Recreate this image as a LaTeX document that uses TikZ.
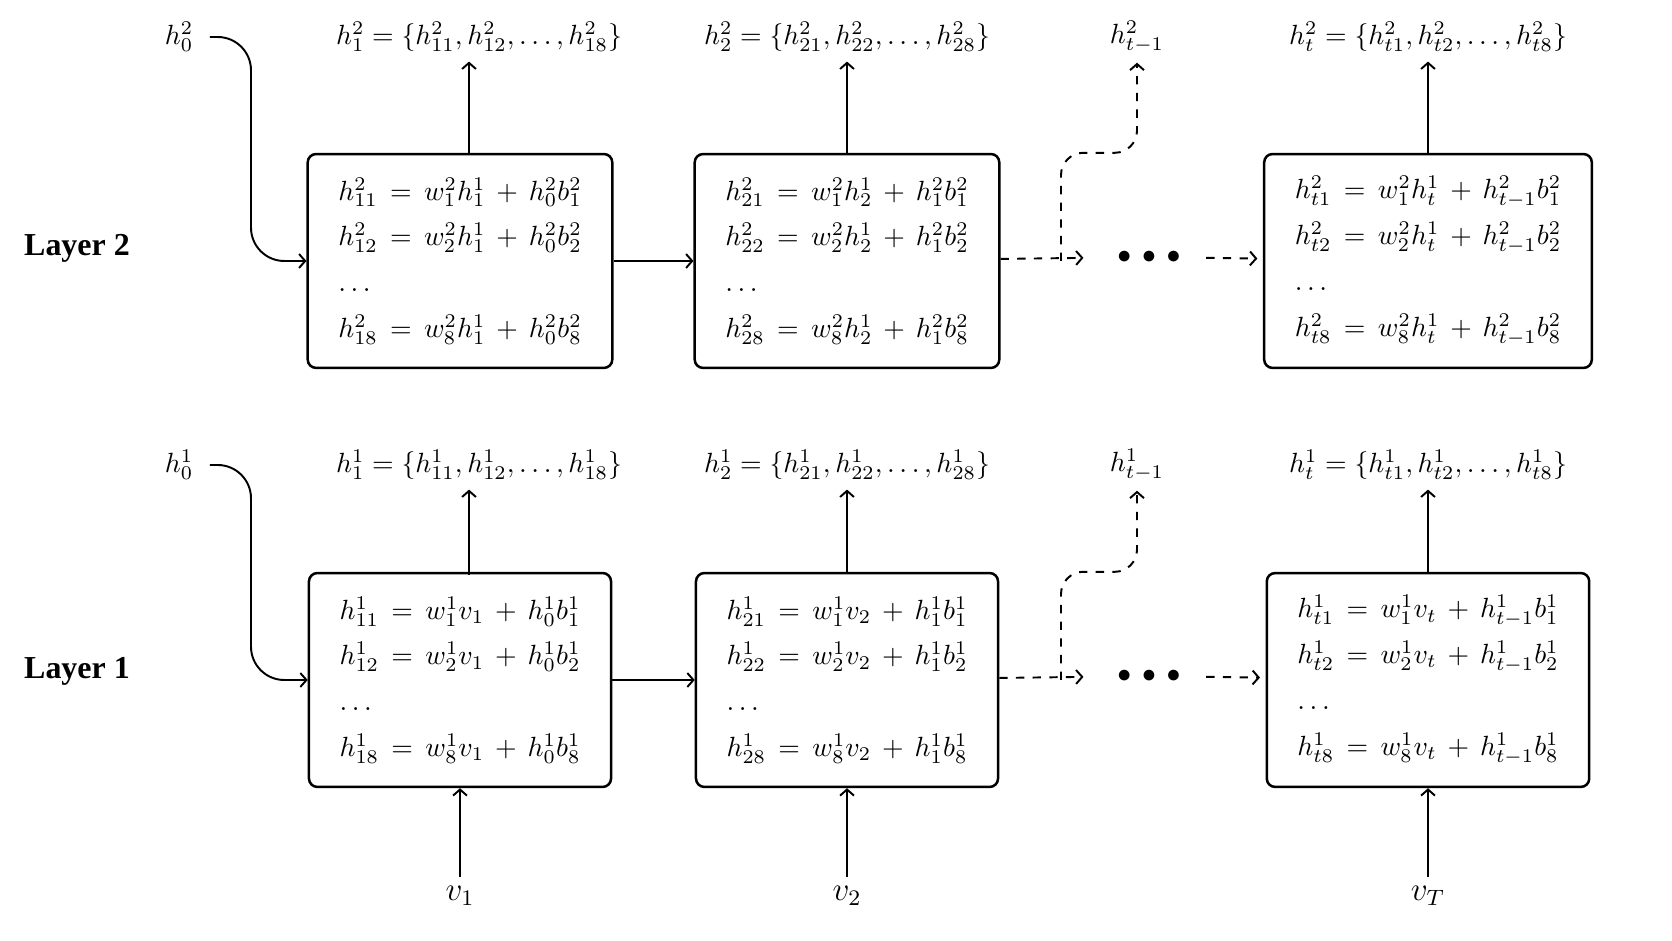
\documentclass[tikz,border=0pt]{standalone}
\usepackage{fontspec}
\usepackage{amsmath}
\newfontfamily\layerfont{Liberation Serif}
\usetikzlibrary{arrows.meta}

\begin{document}
\begin{tikzpicture}[x=0.36pt,y=-0.36pt,
  cell/.style={draw,line width=0.9pt,rounded corners=3pt,align=left,inner xsep=11pt,minimum height=77pt},
  flow/.style={-{Straight Barb[length=2.2pt,width=5pt]},line width=0.7pt},
  skip/.style={flow,dashed},
  layer/.style={font=\layerfont\bfseries\fontsize{11.5}{14}\selectfont}]
\path[use as bounding box] (0,0) rectangle (1672,941);
% Layer 2
\node[layer] (l2) at (77,248) {Layer 2};
\node (s2) at (179,37) {$h^2_0$};
\node (o21) at (479,37) {$h^2_1 = \{h^2_{11}, h^2_{12}, \dots, h^2_{18}\}$};
\node (o22) at (847,37) {$h^2_2 = \{h^2_{21}, h^2_{22}, \dots, h^2_{28}\}$};
\node (o2p) at (1137,37) {$h^2_{t-1}$};
\node (o23) at (1428,37) {$h^2_t = \{h^2_{t1}, h^2_{t2}, \dots, h^2_{t8}\}$};
\node[cell] (b21) at (460,261) {$h^2_{11} \,=\, w^2_1 h^1_1 \,+\, h^2_0 b^2_1$\\[4.5pt]
  $h^2_{12} \,=\, w^2_2 h^1_1 \,+\, h^2_0 b^2_2$\\[4.5pt]
  $\dots$\\[4.5pt]
  $h^2_{18} \,=\, w^2_8 h^1_1 \,+\, h^2_0 b^2_8$};
\node[cell] (b22) at (847,261) {$h^2_{21} \,=\, w^2_1 h^1_2 \,+\, h^2_1 b^2_1$\\[4.5pt]
  $h^2_{22} \,=\, w^2_2 h^1_2 \,+\, h^2_1 b^2_2$\\[4.5pt]
  $\dots$\\[4.5pt]
  $h^2_{28} \,=\, w^2_8 h^1_2 \,+\, h^2_1 b^2_8$};
\node[cell] (b23) at (1428,261) {$h^2_{t1} \,=\, w^2_1 h^1_t \,+\, h^2_{t-1} b^2_1$\\[4.5pt]
  $h^2_{t2} \,=\, w^2_2 h^1_t \,+\, h^2_{t-1} b^2_2$\\[4.5pt]
  $\dots$\\[4.5pt]
  $h^2_{t8} \,=\, w^2_8 h^1_t \,+\, h^2_{t-1} b^2_8$};
\node[inner xsep=12pt] (d2) at (1149,257) {$\bullet\,\bullet\,\bullet$};
\coordinate (k2) at (251,261);
\coordinate (f2) at (1061,261);
\coordinate (u2) at (469,154);
\draw[flow,rounded corners=12pt,shorten <=2.5pt] (s2.east) -| (k2) -- (b21.west);
\draw[flow] (b21) -- (b22);
\draw[skip] (b22) -- (d2);
\draw[skip,shorten <=-3pt,shorten >=2pt] (d2) -- (b23);
\draw[skip,rounded corners=8pt] (f2) |- (b22.north -| o2p) -- (o2p);
\draw[flow] (u2) -- (u2 |- o21.south);
\draw[flow] (b22) -- (o22);
\draw[flow] (b23) -- (o23);
% Layer 1
\node[layer] (l1) at (77,671) {Layer 1};
\node (s1) at (179,465) {$h^1_0$};
\node (o11) at (479,465) {$h^1_1 = \{h^1_{11}, h^1_{12}, \dots, h^1_{18}\}$};
\node (o12) at (847,465) {$h^1_2 = \{h^1_{21}, h^1_{22}, \dots, h^1_{28}\}$};
\node (o1p) at (1137,465) {$h^1_{t-1}$};
\node (o13) at (1428,465) {$h^1_t = \{h^1_{t1}, h^1_{t2}, \dots, h^1_{t8}\}$};
\node[cell] (b11) at (460,680) {$h^1_{11} \,=\, w^1_1 v_1 \,+\, h^1_0 b^1_1$\\[4.5pt]
  $h^1_{12} \,=\, w^1_2 v_1 \,+\, h^1_0 b^1_2$\\[4.5pt]
  $\dots$\\[4.5pt]
  $h^1_{18} \,=\, w^1_8 v_1 \,+\, h^1_0 b^1_8$};
\node[cell] (b12) at (847,680) {$h^1_{21} \,=\, w^1_1 v_2 \,+\, h^1_1 b^1_1$\\[4.5pt]
  $h^1_{22} \,=\, w^1_2 v_2 \,+\, h^1_1 b^1_2$\\[4.5pt]
  $\dots$\\[4.5pt]
  $h^1_{28} \,=\, w^1_8 v_2 \,+\, h^1_1 b^1_8$};
\node[cell] (b13) at (1428,680) {$h^1_{t1} \,=\, w^1_1 v_t \,+\, h^1_{t-1} b^1_1$\\[4.5pt]
  $h^1_{t2} \,=\, w^1_2 v_t \,+\, h^1_{t-1} b^1_2$\\[4.5pt]
  $\dots$\\[4.5pt]
  $h^1_{t8} \,=\, w^1_8 v_t \,+\, h^1_{t-1} b^1_8$};
\node[inner xsep=12pt] (d1) at (1149,676) {$\bullet\,\bullet\,\bullet$};
\coordinate (k1) at (251,680);
\coordinate (f1) at (1061,680);
\coordinate (u1) at (469,575);
\draw[flow,rounded corners=12pt,shorten <=2.5pt] (s1.east) -| (k1) -- (b11.west);
\draw[flow] (b11) -- (b12);
\draw[skip] (b12) -- (d1);
\draw[skip,shorten <=-3pt,shorten >=2pt] (d1) -- (b13);
\draw[skip,rounded corners=8pt] (f1) |- (b12.north -| o1p) -- (o1p);
\draw[flow] (u1) -- (u1 |- o11.south);
\draw[flow] (b12) -- (o12);
\draw[flow] (b13) -- (o13);
% inputs
\node (v1) at (460,896) {\large $v_1$};
\node (v2) at (847,896) {\large $v_2$};
\node (vT) at (1428,896) {\large $v_T$};
\draw[flow] (v1) -- (b11);
\draw[flow] (v2) -- (b12);
\draw[flow] (vT) -- (b13);
\end{tikzpicture}
\end{document}
